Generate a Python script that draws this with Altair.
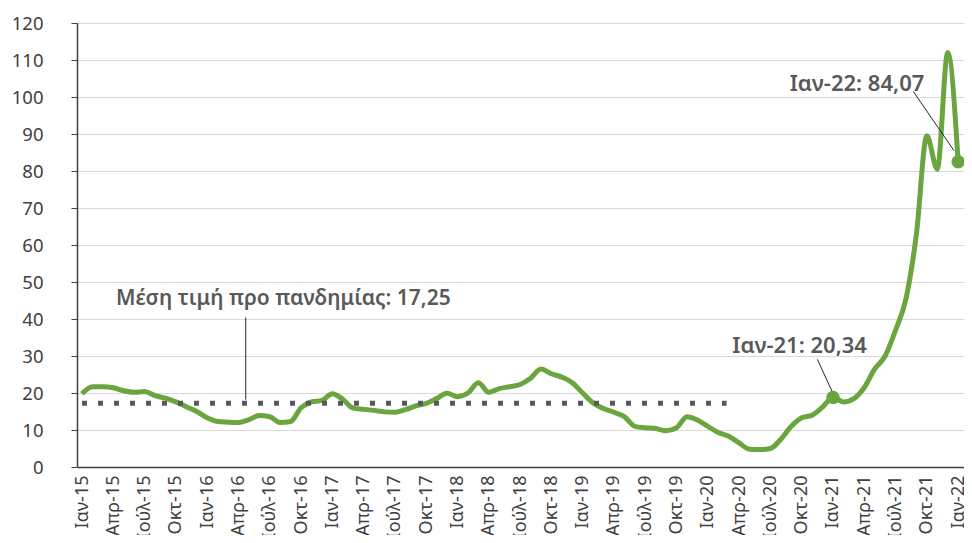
import altair as alt
import pandas as pd

month_names = ["Ιαν", "Φεβ", "Μαρ", "Απρ", "Μάι", "Ιούν", "Ιούλ", "Αύγ", "Σεπ", "Οκτ", "Νοέ", "Δεκ"]
years = ["15", "16", "17", "18", "19", "20", "21", "22"]
labels = [f"{m}-{y}" for y in years for m in month_names][:85]

values = [
    19.8, 21.7, 21.7, 21.4, 20.6, 20.2, 20.4, 19.3, 18.6, 17.6, 16.3, 15.0,
    13.3, 12.3, 12.1, 12.0, 12.8, 13.9, 13.6, 12.0, 12.3, 16.0, 17.6, 18.0,
    19.8, 18.3, 15.9, 15.6, 15.3, 14.9, 14.8, 15.5, 16.5, 17.2, 18.5, 19.9,
    19.0, 20.0, 22.8, 20.2, 21.2, 21.7, 22.3, 24.0, 26.5, 25.2, 24.3, 22.8,
    20.0, 17.3, 15.8, 14.8, 13.6, 11.0, 10.6, 10.4, 9.8, 10.6, 13.6, 12.7,
    11.0, 9.3, 8.3, 6.5, 4.8, 4.7, 5.0, 7.5, 11.0, 13.3, 14.0, 16.2,
    18.8, 17.6, 18.5, 21.5, 26.5, 30.0, 37.0, 45.5, 63.0, 89.5, 80.5, 112.0,
    82.5,
]

mean_value = 17.25
mean_end_label = "Μαρ-20"
highlight_labels = ["Ιαν-21", "Ιαν-22"]
mean_text = "Μέση τιμή προ πανδημίας: 17,25"
point_texts = ["Ιαν-21: 20,34", "Ιαν-22: 84,07"]

GREEN = "#6aa53f"
GREY = "#595959"
FONT = "Noto Sans"

df = pd.DataFrame({"idx": list(range(len(values))), "value": values, "label": labels})

label_array = "[" + ",".join(f"'{l}'" for l in labels) + "]"
x_scale = alt.Scale(domain=[-0.48, 84.56], nice=False, zero=False)
y_scale = alt.Scale(domain=[0, 120], nice=False)

x_axis = alt.Axis(
    title=None,
    values=list(range(0, 85, 3)),
    labelExpr=f"{label_array}[round(datum.value)]",
    labelAngle=-90,
    labelFontSize=18,
    labelColor="#404040",
    labelFont=FONT,
    labelPadding=8,
    labelOverlap=False,
    labelBound=False,
    ticks=False,
    grid=False,
    domainColor="#404040",
    domainWidth=1.5,
)
y_axis = alt.Axis(
    title=None,
    values=list(range(0, 121, 10)),
    labelFontSize=18.5,
    labelColor="#404040",
    labelFont=FONT,
    labelPadding=28,
    labelOverlap=False,
    tickSize=6,
    tickColor="#404040",
    domainColor="#404040",
    domainWidth=1.5,
    gridColor="#d9d9d9",
    gridWidth=1.2,
)


def X(field):
    return alt.X(field, scale=x_scale, axis=x_axis)


def Y(field):
    return alt.Y(field, scale=y_scale, axis=y_axis)


line = alt.Chart(df).mark_line(
    color=GREEN, strokeWidth=5, interpolate="monotone"
).encode(x=X("idx:Q"), y=Y("value:Q"))

mean_df = pd.DataFrame({
    "x": [0], "x2": [labels.index(mean_end_label) - 0.2], "y": [mean_value]
})
mean_rule = alt.Chart(mean_df).mark_rule(
    color=GREY, strokeWidth=5, strokeDash=[5, 11]
).encode(x=X("x:Q"), x2="x2:Q", y=Y("y:Q"))

dots_df = df[df["label"].isin(highlight_labels)]
dots = alt.Chart(dots_df).mark_point(
    filled=True, color=GREEN, opacity=1
).encode(x=X("idx:Q"), y=Y("value:Q"), size=alt.value(180))

leaders_df = pd.DataFrame({
    "x": [15.7, 70.5, 79.7],
    "x2": [15.7, 71.9, 83.6],
    "y": [40.4, 29.1, 101.5],
    "y2": [18.2, 20.5, 85.5],
})
leaders = alt.Chart(leaders_df).mark_rule(color="#262626", strokeWidth=1).encode(
    x=X("x:Q"), x2="x2:Q", y=Y("y:Q"), y2="y2:Q",
)

mean_text_df = pd.DataFrame({"x": [19.3], "y": [45.3], "text": [mean_text]})
mean_label = alt.Chart(mean_text_df).mark_text(
    font=FONT, fontSize=21, fontWeight=600, color=GREY, align="center", baseline="middle"
).encode(x=X("x:Q"), y=Y("y:Q"), text="text:N")

point_text_df = pd.DataFrame({
    "x": [68.8, 74.3],
    "y": [32.6, 103.4],
    "text": point_texts,
})
point_labels = alt.Chart(point_text_df).mark_text(
    font=FONT, fontSize=22, fontWeight=600, color=GREY, align="center", baseline="middle"
).encode(x=X("x:Q"), y=Y("y:Q"), text="text:N")

chart = alt.layer(line, mean_rule, leaders, dots, mean_label, point_labels).properties(
    width=887,
    height=444,
    background="white",
    autosize=alt.AutoSizeParams(type="none"),
    padding={"left": 69, "top": 15, "right": 0, "bottom": 68},
).configure_view(stroke=None)

chart.save("out.html", embed_options={"renderer": "svg", "actions": False})
